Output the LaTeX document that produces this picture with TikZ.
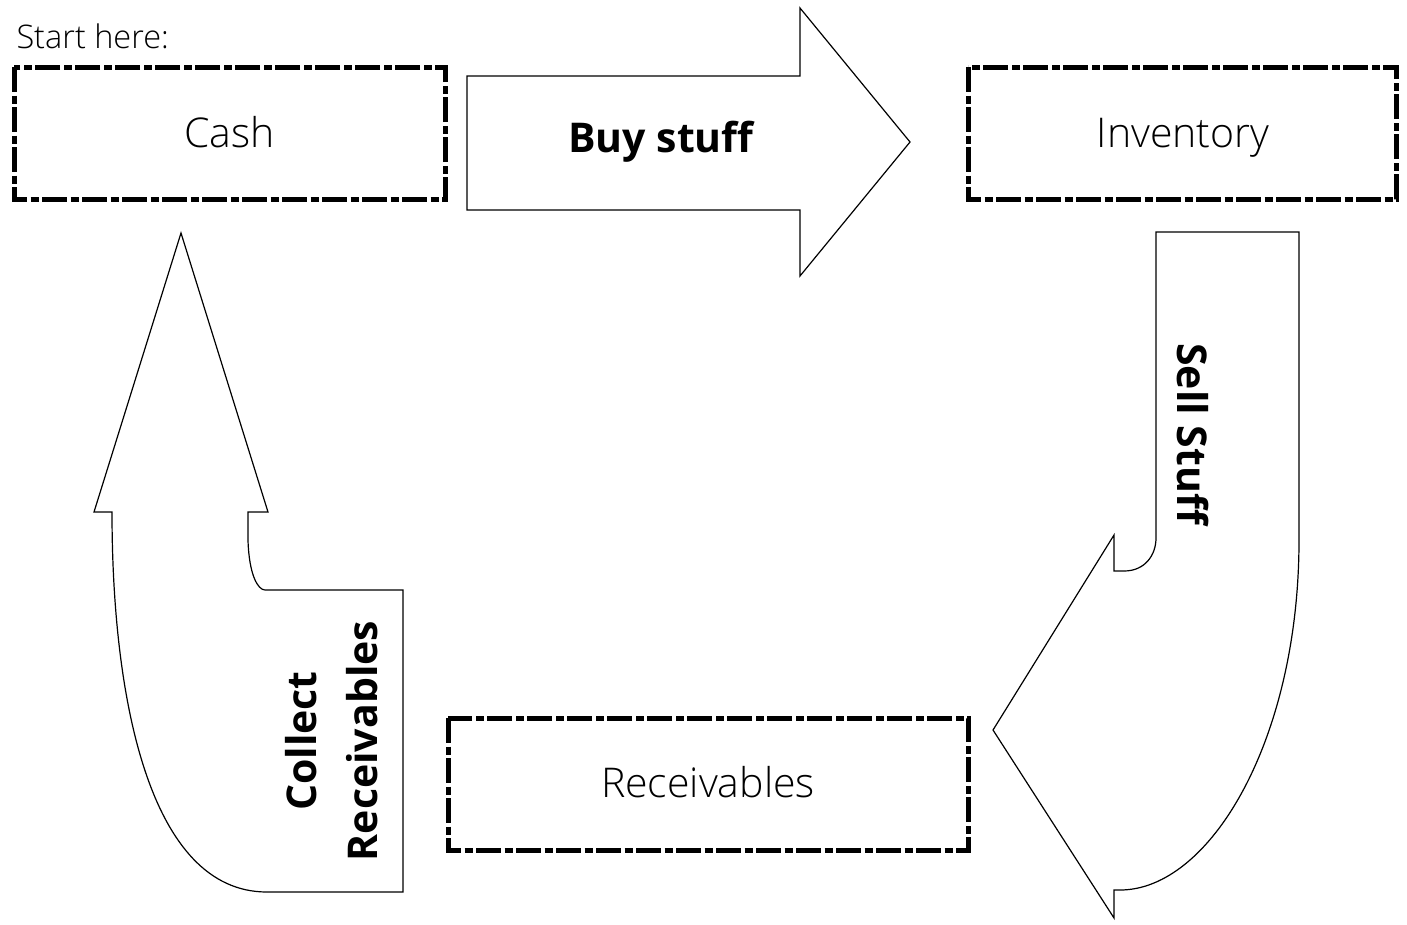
\documentclass[tikz,border=0pt]{standalone}
\usepackage{fontspec}
\setmainfont{Open Sans Light}[BoldFont=Open Sans Bold]
\begin{document}
\begin{tikzpicture}[x=1pt,y=-1pt,
  dbox/.style={draw=black,line width=5pt,dash pattern=on 25pt off 3.5pt on 8pt off 3.5pt,fill=white},
  blockarrow/.style={draw=black,line width=1.2pt,fill=white,line join=miter},
  boxtext/.style={font=\fontsize{41}{48}\selectfont,anchor=base},
  arrowtext/.style={font=\fontsize{41}{61}\selectfont\bfseries,align=center},
  starttext/.style={font=\fontsize{32.5}{36}\selectfont,anchor=west}]
\useasboundingbox (0,0) rectangle (1407,924);
% boxes
\draw[dbox] (14,67) rectangle (445,199);
\node[boxtext] (cash) at (229.5,147) {Cash};
\draw[dbox] (968,67) rectangle (1396,199);
\node[boxtext] (inv) at (1183,147) {Inventory};
\draw[dbox] (448,718) rectangle (968,850);
\node[boxtext] (rec) at (708,797) {Receivables};
\node[starttext] (start) at (13,36) {Start here:};
% buy stuff arrow
\draw[blockarrow] (467,76) -- (800,76) -- (800,8) -- (910,142) -- (800,276) -- (800,210) -- (467,210) -- cycle;
\node[arrowtext] (buy) at (661,142) {Buy stuff};
% sell stuff arrow
\draw[blockarrow] (1156,232) -- (1299,232) -- (1299,540)
  .. controls (1299,740) and (1210,890) .. (1120,890) -- (1114,890) -- (1114,918)
  -- (993,730) -- (1114,535) -- (1114,571) -- (1124,571)
  .. controls (1145,571) and (1156,555) .. (1156,538) -- cycle;
\node[arrowtext,rotate=-90] (sell) at (1193,434) {Sell Stuff};
% collect receivables arrow
\draw[blockarrow] (181,233) -- (268,512) -- (248,512) -- (248,540)
  .. controls (249,575) and (258,590) .. (265,590) -- (403,590) -- (403,892) -- (267,892)
  .. controls (150,892) and (112,700) .. (112,512) -- (94,512) -- cycle;
\node[arrowtext,rotate=90] (collect) at (332,741) {Collect\\Receivables};
\end{tikzpicture}
\end{document}
